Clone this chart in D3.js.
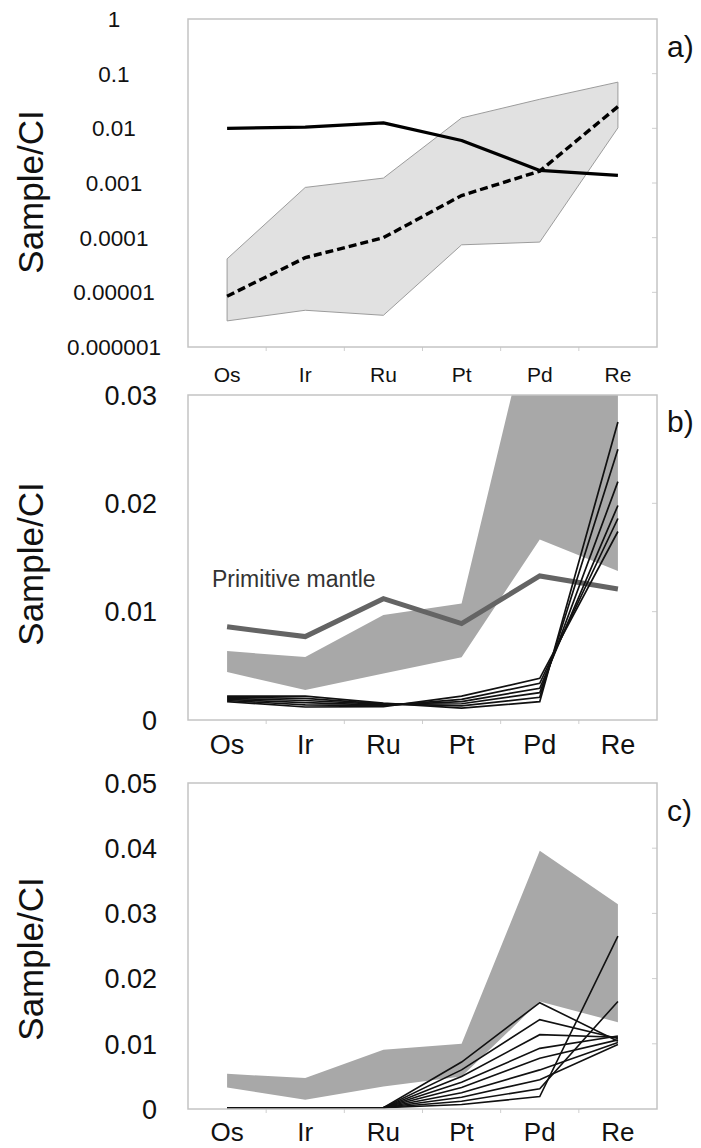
<!DOCTYPE html>
<html>
<head>
<meta charset="utf-8">
<script src="https://cdn.jsdelivr.net/npm/d3@7"></script>
<style>
  html, body { margin: 0; padding: 0; background: #fff; }
  svg { display: block; }
  text { font-family: "Liberation Sans", Arial, sans-serif; fill: #111; }
</style>
</head>
<body>
<svg id="fig" width="701" height="1148"></svg>
<script>
// ---- element order on the x axis ----
const elements = ["Os", "Ir", "Ru", "Pt", "Pd", "Re"];

// ---- panel a (log scale) ----
const aTicks = [1, 0.1, 0.01, 0.001, 0.0001, 0.00001, 0.000001];
const aTickLabels = ["1", "0.1", "0.01", "0.001", "0.0001", "0.00001", "0.000001"];
const aRangeHigh = [4.1e-5, 8.3e-4, 1.23e-3, 0.0155, 0.034, 0.07];
const aRangeLow  = [3.0e-6, 4.7e-6, 3.8e-6, 7.4e-5, 8.3e-5, 0.0102];
const aSolid  = [0.0100, 0.0105, 0.0126, 0.0060, 0.0017, 0.00138];
const aDashed = [8.5e-6, 4.3e-5, 1.0e-4, 5.9e-4, 1.65e-3, 0.025];

// ---- panel b (linear scale) ----
const bTicks = [0, 0.01, 0.02, 0.03];
const bTickLabels = ["0", "0.01", "0.02", "0.03"];
const bRangeHigh = [0.00636, 0.00581, 0.0097, 0.01076, 0.0408, 0.036];
const bRangeLow  = [0.00443, 0.00277, 0.0043, 0.0058, 0.01667, 0.01376];
const primitiveMantle = [0.0086, 0.0077, 0.0112, 0.0089, 0.0133, 0.0121];
const bModel1 = [0.0022, 0.0022, 0.00155, 0.0011, 0.00169, 0.0275];
const bModel2 = [0.0021, 0.0020, 0.00149, 0.0013, 0.00210, 0.0250];
const bModel3 = [0.0020, 0.0018, 0.00144, 0.0015, 0.00252, 0.0220];
const bModel4 = [0.0019, 0.0016, 0.00138, 0.0017, 0.00293, 0.0198];
const bModel5 = [0.0018, 0.0014, 0.00132, 0.0019, 0.00339, 0.0186];
const bModel6 = [0.0017, 0.0012, 0.00124, 0.0022, 0.00385, 0.0174];

// ---- panel c (linear scale) ----
const cTicks = [0, 0.01, 0.02, 0.03, 0.04, 0.05];
const cTickLabels = ["0", "0.01", "0.02", "0.03", "0.04", "0.05"];
const cRangeHigh = [0.0054, 0.00474, 0.00908, 0.0100, 0.0396, 0.0314];
const cRangeLow  = [0.00331, 0.00142, 0.00347, 0.0050, 0.0165, 0.0133];
const cModel1 = [0.0002, 0.0002, 0.0002, 0.0072, 0.0163, 0.0104];
const cModel2 = [0.0002, 0.0002, 0.0002, 0.0060, 0.0137, 0.0108];
const cModel3 = [0.0002, 0.0002, 0.0002, 0.0050, 0.0114, 0.0110];
const cModel4 = [0.0002, 0.0002, 0.0002, 0.0041, 0.0093, 0.0112];
const cModel5 = [0.0002, 0.0002, 0.0002, 0.0033, 0.0078, 0.0106];
const cModel6 = [0.0002, 0.0002, 0.0002, 0.0025, 0.0060, 0.0102];
const cModel7 = [0.0002, 0.0002, 0.0002, 0.0018, 0.0045, 0.0099];
const cModel8 = [0.0002, 0.0002, 0.0002, 0.0012, 0.0031, 0.0165];
const cModel9 = [0.0002, 0.0002, 0.0002, 0.0007, 0.0019, 0.0265];

const yTitle = "Sample/CI";

// ---- drawing ----
const svg = d3.select("#fig");
const left = 188, right = 657;

const x = d3.scaleBand().domain(elements).range([left, right]).paddingInner(0).paddingOuter(0);
const cx = e => x(e) + x.bandwidth() / 2;

const panels = [
  { id: "a", top: 19, bottom: 347, scale: d3.scaleLog().domain([1e-6, 1]),
    ticks: aTicks, tickLabels: aTickLabels, tickFont: 22.5, tickAnchor: "middle", tickX: 114,
    catFont: 21, catBaseline: 382, titleY: 192, tag: "a)", tagBaseline: 57 },
  { id: "b", top: 395, bottom: 720, scale: d3.scaleLinear().domain([0, 0.03]),
    ticks: bTicks, tickLabels: bTickLabels, tickFont: 27, tickAnchor: "end", tickX: 157,
    catFont: 27, catBaseline: 754, titleY: 564, tag: "b)", tagBaseline: 432 },
  { id: "c", top: 783, bottom: 1109, scale: d3.scaleLinear().domain([0, 0.05]),
    ticks: cTicks, tickLabels: cTickLabels, tickFont: 27, tickAnchor: "end", tickX: 157,
    catFont: 26, catBaseline: 1141, titleY: 959, tag: "c)", tagBaseline: 821 }
];
panels.forEach(p => p.scale.range([p.bottom, p.top]));

function drawFrame(p) {
  const g = svg.append("g").attr("class", "panel-" + p.id);
  const y = p.scale;

  // clip region for the plot interior
  svg.append("clipPath").attr("id", "clip-" + p.id)
    .append("rect").attr("x", left).attr("y", p.top)
    .attr("width", right - left).attr("height", p.bottom - p.top);

  // y tick labels
  g.selectAll("text.ytick").data(p.ticks).join("text")
    .attr("class", "ytick")
    .attr("x", p.tickX)
    .attr("y", d => y(d))
    .attr("dy", "0.36em")
    .attr("text-anchor", p.tickAnchor)
    .style("font-size", p.tickFont + "px")
    .text((d, i) => p.tickLabels[i]);

  // small inward ticks on the right border
  g.selectAll("line.rtick").data(p.ticks.filter(t => y(t) > p.top + 1 && y(t) < p.bottom - 1)).join("line")
    .attr("x1", right - 5).attr("x2", right)
    .attr("y1", d => y(d)).attr("y2", d => y(d))
    .attr("stroke", "#cfcfcf").attr("stroke-width", 1);

  // category ticks between bands
  g.selectAll("line.xtick").data(elements.slice(1)).join("line")
    .attr("x1", d => x(d)).attr("x2", d => x(d))
    .attr("y1", p.bottom).attr("y2", p.bottom + 4)
    .attr("stroke", "#cfcfcf").attr("stroke-width", 1);

  // category labels
  g.selectAll("text.xcat").data(elements).join("text")
    .attr("class", "xcat")
    .attr("x", d => cx(d))
    .attr("y", p.catBaseline)
    .attr("text-anchor", "middle")
    .style("font-size", p.catFont + "px")
    .text(d => d);

  // y axis title
  g.append("text")
    .attr("transform", `translate(43,${p.titleY}) rotate(-90)`)
    .attr("text-anchor", "middle")
    .style("font-size", "35px")
    .text(yTitle);

  // panel tag
  g.append("text")
    .attr("x", 667).attr("y", p.tagBaseline)
    .style("font-size", "30px")
    .text(p.tag);

  return g;
}

function drawBorder(p) {
  svg.append("rect")
    .attr("x", left).attr("y", p.top)
    .attr("width", right - left).attr("height", p.bottom - p.top)
    .attr("fill", "none").attr("stroke", "#c4c4c4").attr("stroke-width", 1.5);
}

function rangeArea(p, low, high) {
  return d3.area()
    .x((d, i) => cx(elements[i]))
    .y0((d, i) => p.scale(low[i]))
    .y1((d, i) => p.scale(high[i]))(elements);
}

function seriesLine(p, vals) {
  return d3.line()
    .x((d, i) => cx(elements[i]))
    .y(d => p.scale(d))(vals);
}

// ---- panel a ----
{
  const p = panels[0];
  drawFrame(p);
  const inner = svg.append("g").attr("clip-path", "url(#clip-a)");
  inner.append("path")
    .attr("d", rangeArea(p, aRangeLow, aRangeHigh))
    .attr("fill", "#e1e1e1").attr("stroke", "#9c9c9c").attr("stroke-width", 1);
  inner.append("path")
    .attr("d", seriesLine(p, aSolid))
    .attr("fill", "none").attr("stroke", "#000").attr("stroke-width", 3.2)
    .attr("stroke-linejoin", "round");
  inner.append("path")
    .attr("d", seriesLine(p, aDashed))
    .attr("fill", "none").attr("stroke", "#000").attr("stroke-width", 3.4)
    .attr("stroke-dasharray", "8,4");
  drawBorder(p);
}

// ---- panel b ----
{
  const p = panels[1];
  drawFrame(p);
  const inner = svg.append("g").attr("clip-path", "url(#clip-b)");
  inner.append("path")
    .attr("d", rangeArea(p, bRangeLow, bRangeHigh))
    .attr("fill", "#a8a8a8");
  inner.append("path")
    .attr("d", seriesLine(p, primitiveMantle))
    .attr("fill", "none").attr("stroke", "#646464").attr("stroke-width", 5)
    .attr("stroke-linejoin", "miter");
  const bModels = [bModel1, bModel2, bModel3, bModel4, bModel5, bModel6];
  inner.selectAll("path.model").data(bModels).join("path")
    .attr("class", "model")
    .attr("d", d => seriesLine(p, d))
    .attr("fill", "none").attr("stroke", "#111").attr("stroke-width", 1.7);
  svg.append("text")
    .attr("x", 212).attr("y", 587)
    .style("font-size", "23px").style("fill", "#333")
    .text("Primitive mantle");
  drawBorder(p);
}

// ---- panel c ----
{
  const p = panels[2];
  drawFrame(p);
  const inner = svg.append("g").attr("clip-path", "url(#clip-c)");
  inner.append("path")
    .attr("d", rangeArea(p, cRangeLow, cRangeHigh))
    .attr("fill", "#a8a8a8");
  const cModels = [cModel1, cModel2, cModel3, cModel4, cModel5, cModel6, cModel7, cModel8, cModel9];
  inner.selectAll("path.model").data(cModels).join("path")
    .attr("class", "model")
    .attr("d", d => seriesLine(p, d))
    .attr("fill", "none").attr("stroke", "#111").attr("stroke-width", 1.6);
  drawBorder(p);
}
</script>
</body>
</html>
